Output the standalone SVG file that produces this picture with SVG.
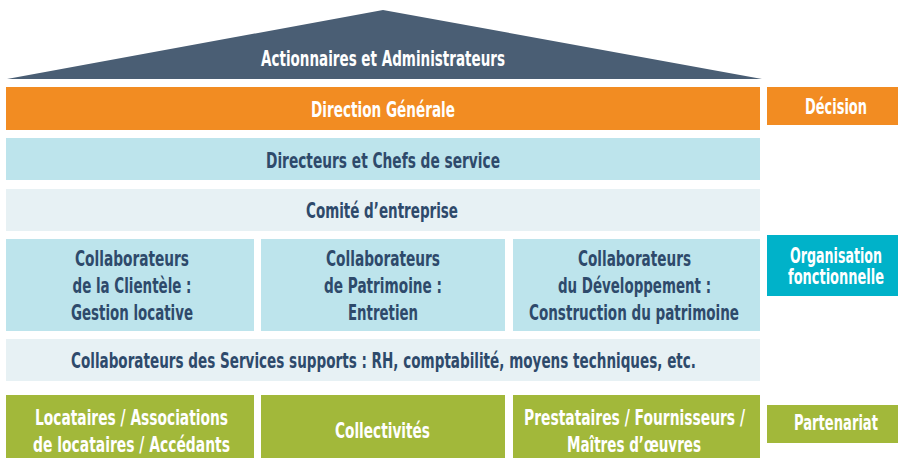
<svg xmlns="http://www.w3.org/2000/svg" width="898" height="458" viewBox="0 0 898 458">
  <style>
    text { font-family: "Liberation Sans Narrow", "DejaVu Sans Condensed", "Liberation Sans", sans-serif; font-weight: bold; font-size: 21px; text-anchor: middle; }
    .light { fill: #ffffff; }
    .dark { fill: #2e4a6b; }
    .roof { fill: #4a5e74; }
    .orange { fill: #f28c22; }
    .blue { fill: #bde4ec; }
    .pale { fill: #e7f1f4; }
    .teal { fill: #00b2c9; }
    .green { fill: #a2b83a; }
  </style>

  <!-- Roof -->
  <g id="actionnaires">
    <polygon class="roof" points="7,79 383,10 762,79"/>
    <text class="light" x="383" y="66" textLength="244" lengthAdjust="spacingAndGlyphs">Actionnaires et Administrateurs</text>
  </g>

  <g id="direction-generale">
    <rect class="orange" x="6" y="87" width="754" height="43"/>
    <text class="light" x="383" y="117" textLength="144" lengthAdjust="spacingAndGlyphs">Direction Générale</text>
  </g>

  <g id="directeurs">
    <rect class="blue" x="6" y="138" width="754" height="42"/>
    <text class="dark" x="383" y="168" textLength="234" lengthAdjust="spacingAndGlyphs">Directeurs et Chefs de service</text>
  </g>

  <g id="comite">
    <rect class="pale" x="6" y="189" width="754" height="42"/>
    <text class="dark" x="382" y="218" textLength="152" lengthAdjust="spacingAndGlyphs">Comité d’entreprise</text>
  </g>

  <g id="clientele">
    <rect class="blue" x="6" y="239" width="248" height="92"/>
    <text class="dark" x="132" y="266" textLength="114" lengthAdjust="spacingAndGlyphs">Collaborateurs</text>
    <text class="dark" x="132" y="293" textLength="119" lengthAdjust="spacingAndGlyphs">de la Clientèle :</text>
    <text class="dark" x="132" y="320" textLength="122" lengthAdjust="spacingAndGlyphs">Gestion locative</text>
  </g>

  <g id="patrimoine">
    <rect class="blue" x="261" y="239" width="244" height="92"/>
    <text class="dark" x="383" y="266" textLength="114" lengthAdjust="spacingAndGlyphs">Collaborateurs</text>
    <text class="dark" x="383" y="293" textLength="118" lengthAdjust="spacingAndGlyphs">de Patrimoine :</text>
    <text class="dark" x="383" y="320" textLength="70" lengthAdjust="spacingAndGlyphs">Entretien</text>
  </g>

  <g id="developpement">
    <rect class="blue" x="513" y="239" width="247" height="92"/>
    <text class="dark" x="634.5" y="266" textLength="113" lengthAdjust="spacingAndGlyphs">Collaborateurs</text>
    <text class="dark" x="634.5" y="293" textLength="153" lengthAdjust="spacingAndGlyphs">du Développement :</text>
    <text class="dark" x="634" y="320" textLength="210" lengthAdjust="spacingAndGlyphs">Construction du patrimoine</text>
  </g>

  <g id="services-supports">
    <rect class="pale" x="6" y="339" width="754" height="42"/>
    <text class="dark" x="383.5" y="368" textLength="625" lengthAdjust="spacingAndGlyphs">Collaborateurs des Services supports : RH, comptabilité, moyens techniques, etc.</text>
  </g>

  <g id="locataires">
    <rect class="green" x="6" y="395" width="248" height="63"/>
    <text class="light" x="131.5" y="425" textLength="193" lengthAdjust="spacingAndGlyphs">Locataires / Associations</text>
    <text class="light" x="131.5" y="452" textLength="197" lengthAdjust="spacingAndGlyphs">de locataires / Accédants</text>
  </g>

  <g id="collectivites">
    <rect class="green" x="261" y="395" width="244" height="63"/>
    <text class="light" x="382.5" y="438" textLength="95" lengthAdjust="spacingAndGlyphs">Collectivités</text>
  </g>

  <g id="prestataires">
    <rect class="green" x="513" y="395" width="247" height="63"/>
    <text class="light" x="634.5" y="425" textLength="221" lengthAdjust="spacingAndGlyphs">Prestataires / Fournisseurs /</text>
    <text class="light" x="634" y="452" textLength="134" lengthAdjust="spacingAndGlyphs">Maîtres d’œuvres</text>
  </g>

  <!-- Side labels -->
  <g id="decision">
    <rect class="orange" x="767" y="87" width="131" height="38"/>
    <text class="light" x="836" y="114" textLength="62" lengthAdjust="spacingAndGlyphs">Décision</text>
  </g>

  <g id="organisation">
    <rect class="teal" x="767" y="235" width="131" height="61"/>
    <text class="light" x="836" y="263" textLength="92" lengthAdjust="spacingAndGlyphs">Organisation</text>
    <text class="light" x="836" y="284" textLength="96" lengthAdjust="spacingAndGlyphs">fonctionnelle</text>
  </g>

  <g id="partenariat">
    <rect class="green" x="767" y="405" width="131" height="38"/>
    <text class="light" x="836" y="430" textLength="84" lengthAdjust="spacingAndGlyphs">Partenariat</text>
  </g>

  <!-- The chart has no connectors -->
  <g id="connectors"/>
</svg>
